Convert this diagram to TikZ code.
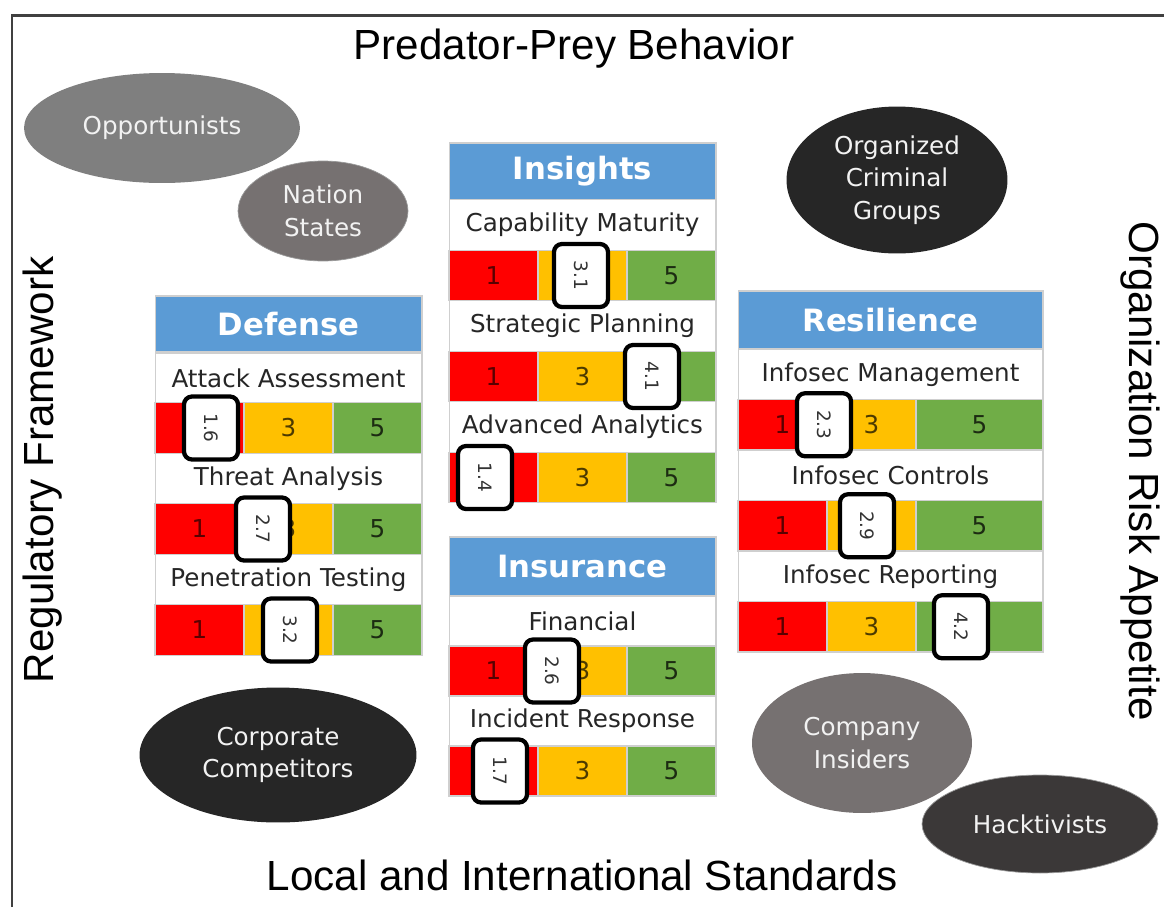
\documentclass[tikz,border=0pt]{standalone}
\usepackage{fontspec}
\setmainfont{DejaVu Sans}
\newfontfamily\outerfont{Liberation Sans}
\usetikzlibrary{shapes.geometric}

\definecolor{hdrblue}{HTML}{5B9BD5}
\definecolor{lowred}{HTML}{FF0000}
\definecolor{midamber}{HTML}{FFC000}
\definecolor{highgreen}{HTML}{70AD47}
\definecolor{cellline}{HTML}{CFCFCF}
\definecolor{greyA}{HTML}{7F7F7F}
\definecolor{greyB}{HTML}{767171}
\definecolor{darkA}{HTML}{262626}
\definecolor{darkB}{HTML}{3B3838}

\begin{document}
\begin{tikzpicture}[x=0.02cm, y=-0.02cm,
    boxhead/.style={fill=hdrblue, draw=cellline, line width=0.6pt, text=white,
        font=\bfseries\fontsize{17.5}{20}\selectfont, minimum width=5.34cm,
        minimum height=1.14cm, inner sep=0pt},
    rowlabel/.style={fill=white, draw=cellline, line width=0.6pt, text=black!85,
        font=\fontsize{14}{17}\selectfont, minimum width=5.34cm,
        minimum height=1.01cm, inner sep=0pt},
    seg/.style={draw=cellline, line width=0.6pt, font=\fontsize{14}{17}\selectfont,
        minimum width=1.78cm, minimum height=1.01cm, inner sep=0pt},
    lowseg/.style={seg, fill=lowred, text=lowred!35!black},
    midseg/.style={seg, fill=midamber, text=midamber!30!black},
    highseg/.style={seg, fill=highgreen, text=highgreen!25!black},
    marker/.style={draw=black, fill=white, line width=0.085cm, rounded corners=0.16cm,
        rotate=-90, minimum width=1.26cm, minimum height=1.08cm, inner sep=0pt,
        text=black!80, font=\fontsize{10.5}{12}\selectfont},
    actor/.style={ellipse, inner sep=0pt, text=white!95!black, align=center,
        font=\fontsize{14}{18.5}\selectfont},
    edgetext/.style={font=\outerfont\fontsize{24}{28}\selectfont, inner sep=0pt}
]
    \useasboundingbox (0,0) rectangle (1164,907);
    \draw [line width=0.06cm, black!75] (12,907) -- (12,15) -- (1164,15);

    % outer texts
    \node[edgetext] (prey) at (574,49) {Predator-Prey Behavior};
    \node[edgetext] (stds) at (582,875) {Local and International Standards};
    \node[edgetext, rotate=90] (reg) at (43,470) {Regulatory Framework};
    \node[edgetext, rotate=-90] (risk) at (1140,471) {Organization Risk Appetite};

    % threat actors
    \node[actor, fill=greyA, minimum width=5.52cm, minimum height=2.2cm] (opp) at (162,128) {Opportunists};
    \node[actor, fill=greyB, draw=white!60!black, minimum width=3.4cm, minimum height=2cm] (nat) at (323,211) {Nation\\States};
    \node[actor, fill=darkA, minimum width=4.42cm, minimum height=2.94cm] (ocg) at (897,180) {Organized\\Criminal\\Groups};
    \node[actor, fill=darkA, minimum width=5.54cm, minimum height=2.7cm] (corp) at (278,755) {Corporate\\Competitors};
    \node[actor, fill=greyB, minimum width=4.4cm, minimum height=2.8cm] (insiders) at (862,743) {Company\\Insiders};
    \node[actor, fill=darkB, draw=white!60!black, minimum width=4.72cm, minimum height=1.96cm] (hack) at (1040,824) {Hacktivists};

    % Defense
    \node[boxhead, minimum height=1.12cm] (def) at (288.5,324) {Defense};
    \node[rowlabel] (def-aa) at (288.5,378.5) {Attack Assessment};
    \node[lowseg] (def-aa-1) at (199.5,428) {1};
    \node[midseg] (def-aa-3) at (288.5,428) {3};
    \node[highseg] (def-aa-5) at (377.5,428) {5};
    \node[rowlabel] (def-ta) at (288.5,478.5) {Threat Analysis};
    \node[lowseg] (def-ta-1) at (199.5,529) {1};
    \node[midseg] (def-ta-3) at (288.5,529) {3};
    \node[highseg] (def-ta-5) at (377.5,529) {5};
    \node[rowlabel] (def-pt) at (288.5,579.5) {Penetration Testing};
    \node[lowseg] (def-pt-1) at (199.5,630) {1};
    \node[midseg] (def-pt-3) at (288.5,630) {3};
    \node[highseg] (def-pt-5) at (377.5,630) {5};
    \node[marker] (def-aa-m) at (211,428) {1.6};
    \node[marker] (def-ta-m) at (263,529) {2.7};
    \node[marker] (def-pt-m) at (290,630) {3.2};

    % Insights
    \node[boxhead] (ins) at (582.5,171.5) {Insights};
    \node[rowlabel] (ins-cm) at (582.5,225) {Capability Maturity};
    \node[lowseg] (ins-cm-1) at (493.5,275.5) {1};
    \node[midseg] (ins-cm-3) at (582.5,275.5) {3};
    \node[highseg] (ins-cm-5) at (671.5,275.5) {5};
    \node[rowlabel] (ins-sp) at (582.5,326) {Strategic Planning};
    \node[lowseg] (ins-sp-1) at (493.5,376.5) {1};
    \node[midseg] (ins-sp-3) at (582.5,376.5) {3};
    \node[highseg] (ins-sp-5) at (671.5,376.5) {5};
    \node[rowlabel] (ins-aa) at (582.5,427) {Advanced Analytics};
    \node[lowseg] (ins-aa-1) at (493.5,477.5) {1};
    \node[midseg] (ins-aa-3) at (582.5,477.5) {3};
    \node[highseg] (ins-aa-5) at (671.5,477.5) {5};
    \node[marker] (ins-cm-m) at (581,275.5) {3.1};
    \node[marker] (ins-sp-m) at (652,376.5) {4.1};
    \node[marker] (ins-aa-m) at (485,477.5) {1.4};

    % Insurance
    \node[boxhead, minimum height=1.18cm] (insu) at (582.5,566.5) {Insurance};
    \node[rowlabel, minimum height=1cm] (insu-fi) at (582.5,621) {Financial};
    \node[lowseg, minimum height=1cm] (insu-fi-1) at (493.5,671) {1};
    \node[midseg, minimum height=1cm] (insu-fi-3) at (582.5,671) {3};
    \node[highseg, minimum height=1cm] (insu-fi-5) at (671.5,671) {5};
    \node[rowlabel, minimum height=1cm] (insu-ir) at (582.5,721) {Incident Response};
    \node[lowseg, minimum height=1cm] (insu-ir-1) at (493.5,771) {1};
    \node[midseg, minimum height=1cm] (insu-ir-3) at (582.5,771) {3};
    \node[highseg, minimum height=1cm] (insu-ir-5) at (671.5,771) {5};
    \node[marker] (insu-fi-m) at (552,671) {2.6};
    \node[marker] (insu-ir-m) at (500,771) {1.7};

    % Resilience
    \node[boxhead, minimum width=6.1cm, minimum height=1.16cm] (res) at (890.5,320) {Resilience};
    \node[rowlabel, minimum width=6.1cm] (res-im) at (890.5,374.25) {Infosec Management};
    \node[lowseg] (res-im-1) at (782.5,424.75) {1};
    \node[midseg] (res-im-3) at (871.5,424.75) {3};
    \node[highseg, minimum width=2.54cm] (res-im-5) at (979.5,424.75) {5};
    \node[rowlabel, minimum width=6.1cm] (res-ic) at (890.5,475.25) {Infosec Controls};
    \node[lowseg] (res-ic-1) at (782.5,525.75) {1};
    \node[midseg] (res-ic-3) at (871.5,525.75) {3};
    \node[highseg, minimum width=2.54cm] (res-ic-5) at (979.5,525.75) {5};
    \node[rowlabel, minimum width=6.1cm] (res-ir) at (890.5,576.25) {Infosec Reporting};
    \node[lowseg] (res-ir-1) at (782.5,626.75) {1};
    \node[midseg] (res-ir-3) at (871.5,626.75) {3};
    \node[highseg, minimum width=2.54cm] (res-ir-5) at (979.5,626.75) {5};
    \node[marker] (res-im-m) at (824,424.75) {2.3};
    \node[marker] (res-ic-m) at (867,525.75) {2.9};
    \node[marker] (res-ir-m) at (961,626.75) {4.2};
\end{tikzpicture}
\end{document}
